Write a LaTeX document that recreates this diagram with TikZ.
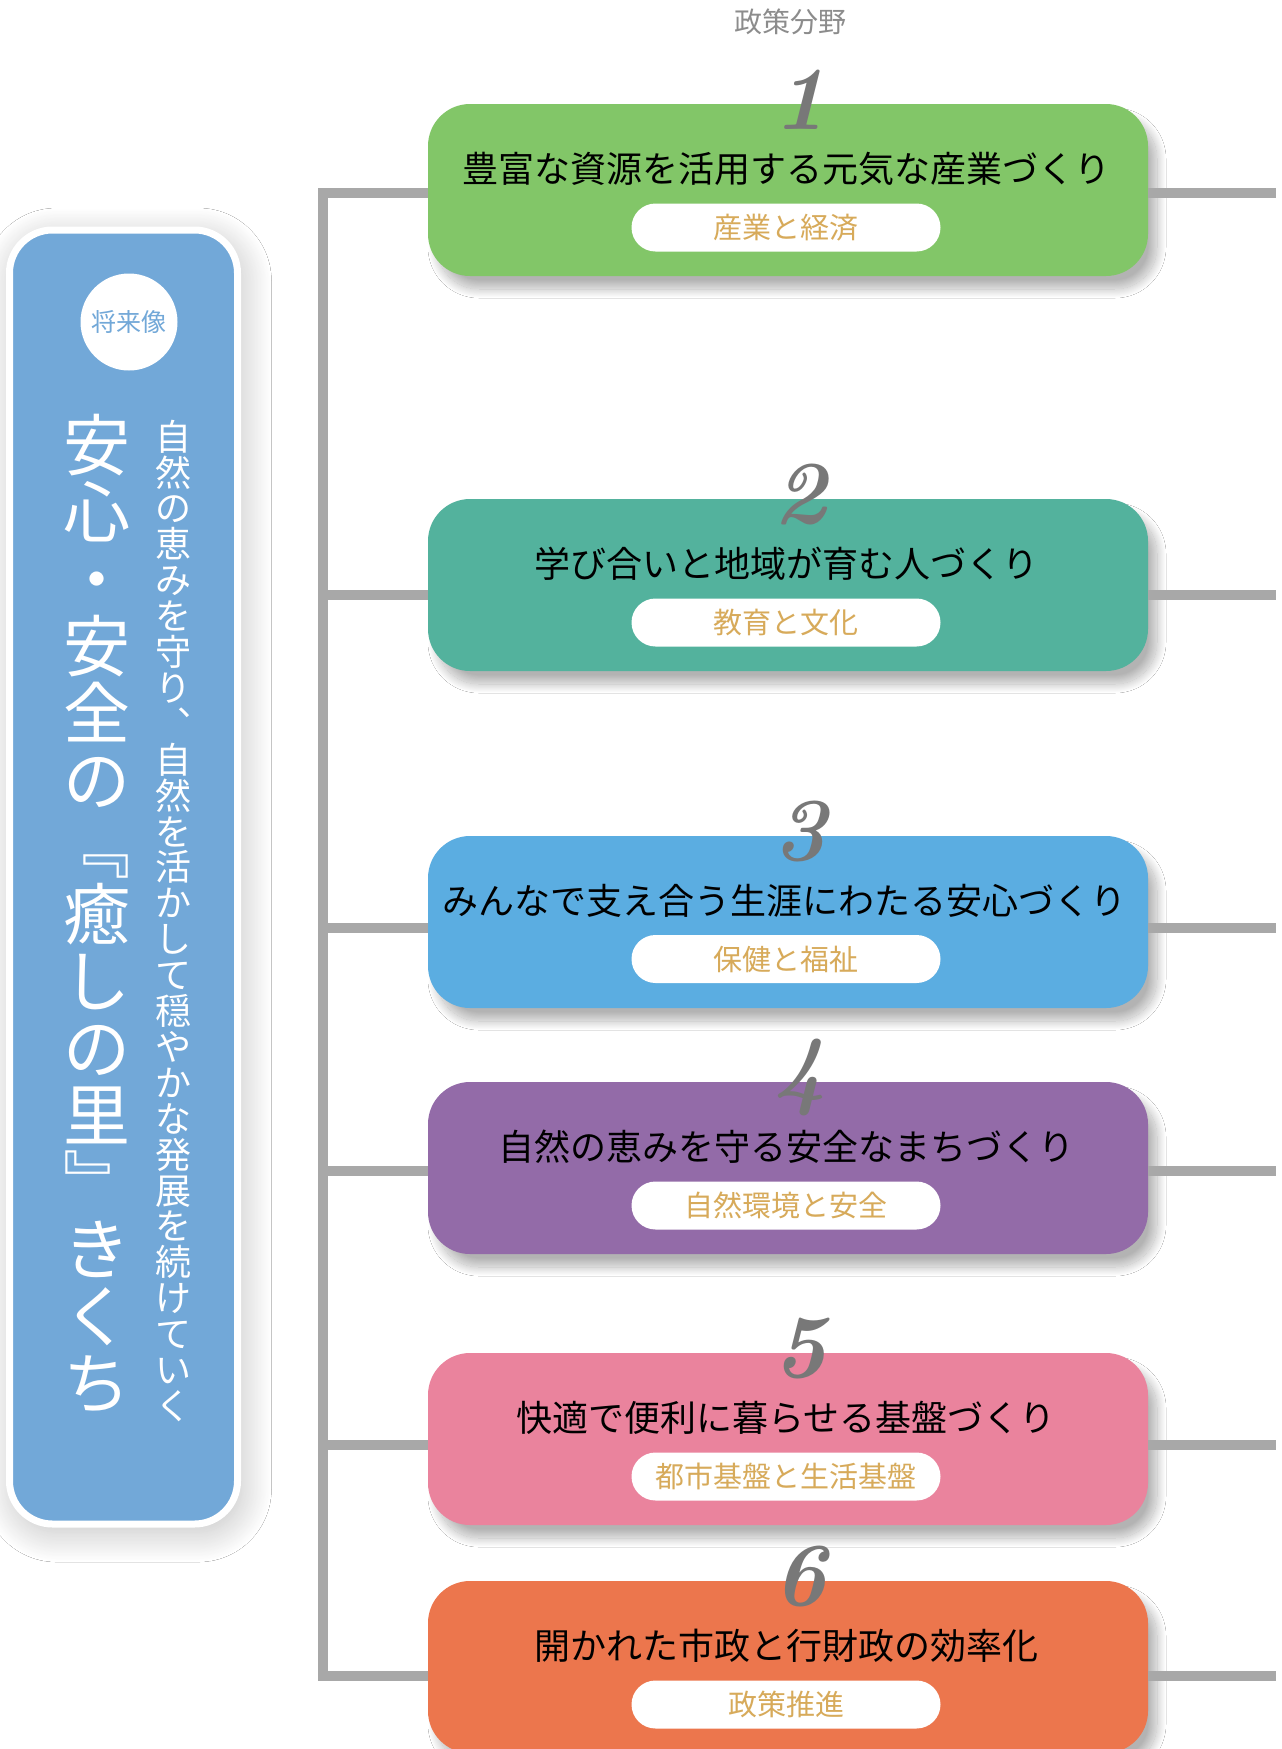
\documentclass[tikz,border=0pt]{standalone}
\usepackage{fontspec}
\usepackage{graphicx}
\setmainfont{Noto Sans CJK JP}
\newfontfamily\numfont{lmroman10-bolditalic}[Extension=.otf]
\usetikzlibrary{shadows.blur}
\definecolor{cgreen}{HTML}{82C668}
\definecolor{cteal}{HTML}{53B29D}
\definecolor{cblue}{HTML}{5BADE1}
\definecolor{cpurple}{HTML}{936BA8}
\definecolor{cpink}{HTML}{EA839D}
\definecolor{corange}{HTML}{EC764D}
\definecolor{panelblue}{HTML}{72A8D8}
\definecolor{linegray}{HTML}{A8A8A8}
\definecolor{pilltext}{HTML}{D7AA5A}
\definecolor{numgray}{HTML}{787878}
\definecolor{hdrgray}{HTML}{8C8C8C}
\tikzset{
  areabox/.style={rounded corners=42pt, minimum width=720pt, minimum height=172pt, inner sep=0pt,
    blur shadow={shadow xshift=9pt, shadow yshift=-13pt, shadow blur radius=9pt, shadow blur steps=30, shadow opacity=30}},
  pill/.style={fill=white, rounded corners=24pt, minimum width=309pt, minimum height=48pt, inner sep=0pt,
    text=pilltext, font=\fontsize{29}{29}\selectfont, text height=25.52pt, text depth=3.48pt},
  titletext/.style={font=\fontsize{36}{36}\selectfont, text=black, inner sep=0pt, text height=31.68pt, text depth=4.32pt},
  numtext/.style={font=\numfont\fontsize{90}{90}\selectfont, text=numgray, inner sep=0pt},
  conn/.style={draw=linegray, line width=10pt, line join=miter},
  bigch/.style={font=\fontsize{67}{67}\selectfont, text=white, inner sep=0pt, text height=58.96pt, text depth=8.04pt},
  smallch/.style={font=\fontsize{36}{36}\selectfont, text=white, inner sep=0pt, text height=31.68pt, text depth=4.32pt},
  panel/.style={fill=panelblue, draw=white, line width=7pt, rounded corners=43pt, minimum width=228pt,
    minimum height=1294pt, inner sep=0pt,
    blur shadow={shadow xshift=4pt, shadow yshift=-8pt, shadow blur radius=30pt, shadow blur steps=40, shadow opacity=25}},
}
\begin{document}
\begin{tikzpicture}[x=1pt,y=-1pt]
\useasboundingbox (0,0) rectangle (1282,1749);
\fill[white] (0,0) rectangle (1282,1749);
\clip (0,0) rectangle (1282,1749);

% left panel
\node[panel] (panel) at (123.5,877) {};
\node[circle, fill=white, minimum size=97pt, inner sep=0pt, text=panelblue,
  font=\fontsize{25}{25}\selectfont, text height=22pt, text depth=3pt] (future) at (129,322) {将来像};
\foreach \c [count=\i from 0] in {安,心,・,安,全,の,﹃,癒,し,の,里,﹄,き,く,ち}
  \node[bigch] (b\i) at (97,{445.5+67*\i}) {\c};
\foreach \c [count=\i from 0] in {自,然,の,恵,み,を,守,り,︑,自,然,を,活,か,し,て,穏,や,か,な,発,展,を,続,け,て,い,く}
  \node[smallch] (s\i) at (173,{436.5+35.9*\i}) {\c};

% header
\node[font=\fontsize{28}{28}\selectfont, text=hdrgray, inner sep=0pt] (hdr) at (790,22) {政策分野};

% boxes
\node[areabox, fill=cgreen]  (box1) at (788,190) {};
\node[areabox, fill=cteal]   (box2) at (788,585) {};
\node[areabox, fill=cblue]   (box3) at (788,922) {};
\node[areabox, fill=cpurple] (box4) at (788,1168) {};
\node[areabox, fill=cpink]   (box5) at (788,1439) {};
\node[areabox, fill=corange] (box6) at (788,1667) {};

% titles
\node[titletext] (title1) at (786,169) {豊富な資源を活用する元気な産業づくり};
\node[titletext] (title2) at (786,564) {学び合いと地域が育む人づくり};
\node[titletext] (title3) at (784,901) {みんなで支え合う生涯にわたる安心づくり};
\node[titletext] (title4) at (786,1147) {自然の恵みを守る安全なまちづくり};
\node[titletext] (title5) at (786,1418) {快適で便利に暮らせる基盤づくり};
\node[titletext] (title6) at (786,1646) {開かれた市政と行財政の効率化};

% pills
\node[pill] (pill1) at (786,227.5) {産業と経済};
\node[pill] (pill2) at (786,622.5) {教育と文化};
\node[pill] (pill3) at (786,959) {保健と福祉};
\node[pill] (pill4) at (786,1205.5) {自然環境と安全};
\node[pill] (pill5) at (786,1476.5) {都市基盤と生活基盤};
\node[pill] (pill6) at (786,1704.5) {政策推進};

% connectors
\coordinate (t1) at (323,193);
\coordinate (t2) at (323,595);
\coordinate (t3) at (323,928);
\coordinate (t4) at (323,1171);
\coordinate (t5) at (323,1445);
\coordinate (t6) at (323,1676);
\coordinate (r1) at (1276,193);
\coordinate (r2) at (1276,595);
\coordinate (r3) at (1276,928);
\coordinate (r4) at (1276,1171);
\coordinate (r5) at (1276,1445);
\coordinate (r6) at (1276,1676);
\draw[conn] (box1.west |- t1) -- (t1) -- (t6) -- (box6.west |- t6);
\foreach \k in {2,3,4,5}
  \draw[conn] (t\k) -- (box\k.west |- t\k);
\foreach \k in {1,2,3,4,5,6}
  \draw[conn] (box\k.east |- r\k) -- (r\k);

% numbers
\node[numtext] (num1) at (800,99.5) {1};
\node[numtext] (num2) at (800,494.5) {2};
\node[numtext] (num3) at (800,831.5) {3};
\node[numtext] (num4) at (800,1077.5) {4};
\node[numtext] (num5) at (800,1348.5) {5};
\node[numtext] (num6) at (800,1576.5) {6};
\end{tikzpicture}
\end{document}
